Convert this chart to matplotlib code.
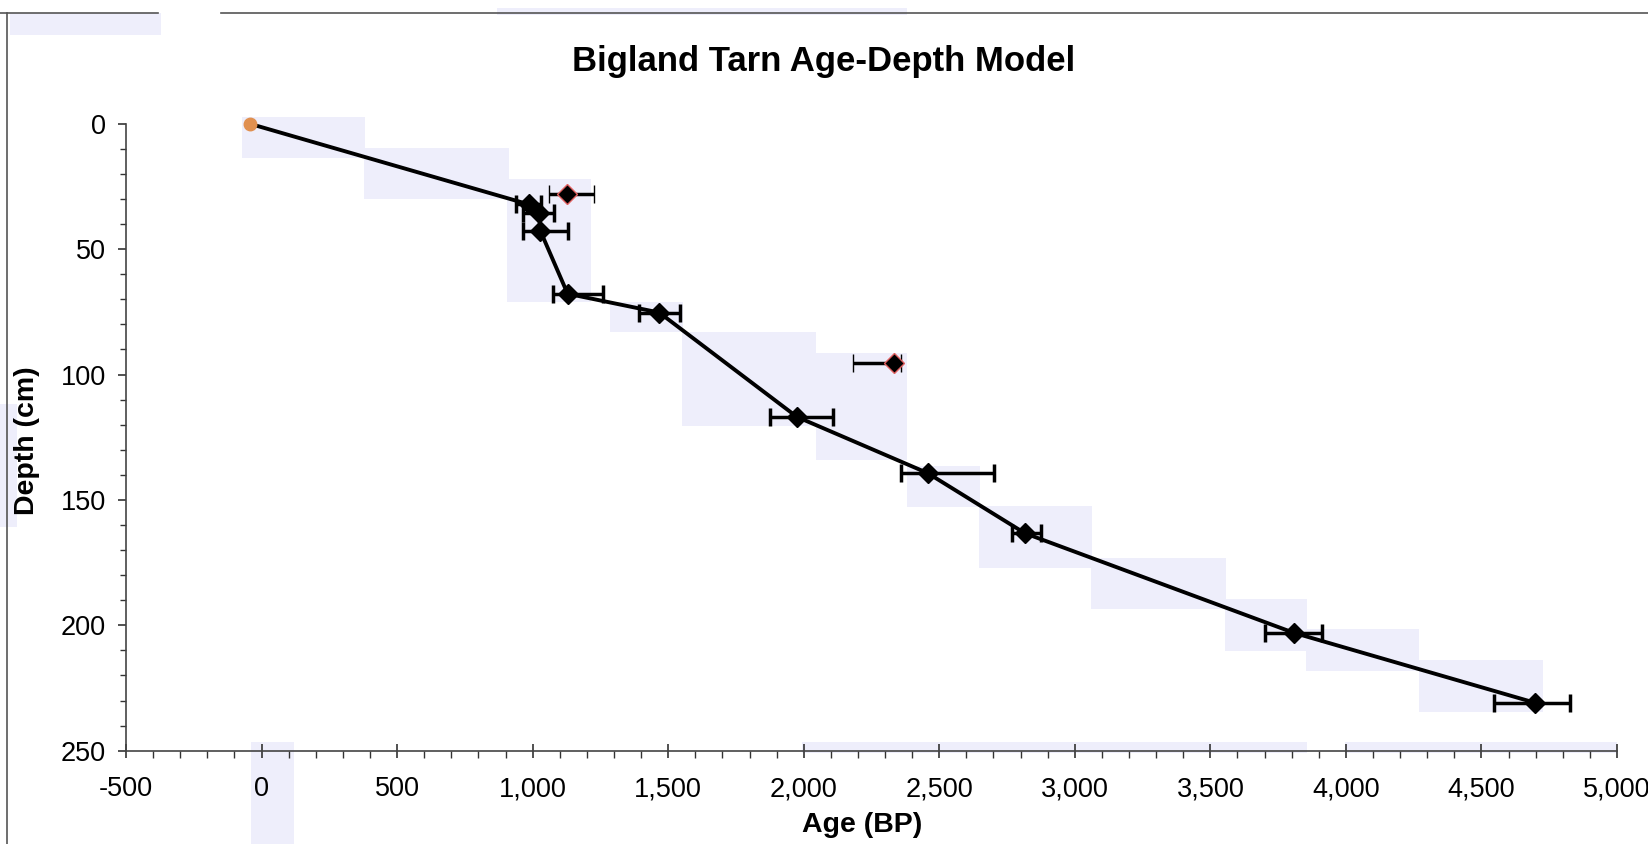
import matplotlib.pyplot as plt
from matplotlib.patches import Rectangle
from matplotlib.lines import Line2D
from matplotlib.ticker import MultipleLocator, FuncFormatter

plt.rcParams['font.family'] = ['Liberation Sans', 'DejaVu Sans']

# dated levels on the age-depth curve (age BP, depth cm, error bar -/+)
ages = [-44, 987, 1024, 1028, 1129, 1467, 1975, 2457, 2816, 3808, 4698]
depths = [0, 32.2, 35.8, 42.6, 67.8, 75.3, 116.9, 139.3, 163.3, 203.0, 230.9]
err_lo = [0, 49, 61, 65, 53, 74, 98, 100, 48, 105, 152]
err_hi = [0, 45, 55, 101, 129, 76, 134, 246, 59, 104, 130]

# dates rejected from the model
out_ages = [1125, 2332]
out_depths = [28.0, 95.5]
out_lo = [64, 151]
out_hi = [102, 27]

# light highlighter boxes on the sheet, figure pixels (left, top, right, bottom)
shade_boxes = [
    (10, 13, 161, 35), (497, 8, 907, 15), (0, 404, 17, 527),
    (242, 117, 365, 158), (364, 148, 509, 199), (507, 179, 591, 302),
    (610, 302, 683, 332), (682, 332, 816, 426), (816, 353, 907, 460),
    (907, 466, 980, 507), (979, 506, 1092, 568), (1091, 558, 1226, 609),
    (1225, 599, 1307, 651), (1306, 629, 1419, 671), (1419, 660, 1543, 712),
    (251, 742, 294, 844), (802, 742, 1307, 753), (1345, 742, 1617, 753),
]

W, H = 1649, 844
fig = plt.figure(figsize=(W / 100, H / 100), dpi=100)
ax = fig.add_axes([126 / W, 1 - 750.7 / H, (1617 - 126) / W, (750.7 - 123.7) / H])
ax.set_facecolor('none')

for l, t, r, b in shade_boxes:
    fig.patches.append(Rectangle((l / W, 1 - b / H), (r - l) / W, (b - t) / H,
                                 transform=fig.transFigure, facecolor='#eeeefb',
                                 edgecolor='none', zorder=-5))

# page frame
fig.add_artist(Line2D([7.5 / W, 7.5 / W], [0, 1 - 13 / H], transform=fig.transFigure,
                      color='#555555', lw=1.2))
fig.add_artist(Line2D([0, 158 / W], [1 - 13 / H, 1 - 13 / H], transform=fig.transFigure,
                      color='#555555', lw=1.2))
fig.add_artist(Line2D([221 / W, 1], [1 - 13 / H, 1 - 13 / H], transform=fig.transFigure,
                      color='#555555', lw=1.2))

# model line through the dated levels
ax.plot(ages, depths, color='black', lw=2.8, zorder=3)
ax.errorbar(ages[1:], depths[1:], xerr=[err_lo[1:], err_hi[1:]], fmt='D',
            color='black', ms=10.5, elinewidth=2.5, capsize=6.5, capthick=2.5, zorder=4)
ax.errorbar(out_ages, out_depths, xerr=[out_lo, out_hi], fmt='D',
            color='black', mfc='black', mec='#e06060', mew=1.0, ms=10.5,
            elinewidth=2.5, capsize=6.5, capthick=2.5, zorder=4)
ax.plot(ages[:1], depths[:1], 'o', color='#e09050', ms=9, zorder=5, clip_on=False)

ax.set_xlim(-500, 5000)
ax.set_ylim(250, 0)
ax.xaxis.set_major_locator(MultipleLocator(500))
ax.xaxis.set_minor_locator(MultipleLocator(100))
ax.yaxis.set_major_locator(MultipleLocator(50))
ax.yaxis.set_minor_locator(MultipleLocator(10))
ax.xaxis.set_major_formatter(FuncFormatter(lambda v, p: f'{v:,.0f}'))

for s in ['top', 'right']:
    ax.spines[s].set_visible(False)
for s in ['left', 'bottom']:
    ax.spines[s].set_color('#444444')
    ax.spines[s].set_linewidth(1.2)

ax.tick_params(axis='x', which='major', direction='inout', length=10.5, width=1.2,
               color='#333333', labelsize=19.5, pad=13)
ax.tick_params(axis='x', which='minor', direction='out', length=5, width=1.0, color='#333333')
ax.tick_params(axis='y', which='major', direction='out', length=5.5, width=1.2,
               color='#333333', labelsize=19.5, pad=9)
ax.tick_params(axis='y', which='minor', direction='out', length=4.3, width=1.0, color='#333333')

fig.text(824 / W, 1 - 71 / H, 'Bigland Tarn Age-Depth Model', ha='center', va='baseline',
         fontsize=25, fontweight='bold')
fig.text(862 / W, 1 - 825 / H, 'Age (BP)', ha='center', va='center',
         fontsize=20.5, fontweight='bold')
fig.text(27 / W, 1 - 441 / H, 'Depth (cm)', ha='center', va='center', rotation=90,
         fontsize=20.5, fontweight='bold')

fig.savefig('out.png', dpi=100)
